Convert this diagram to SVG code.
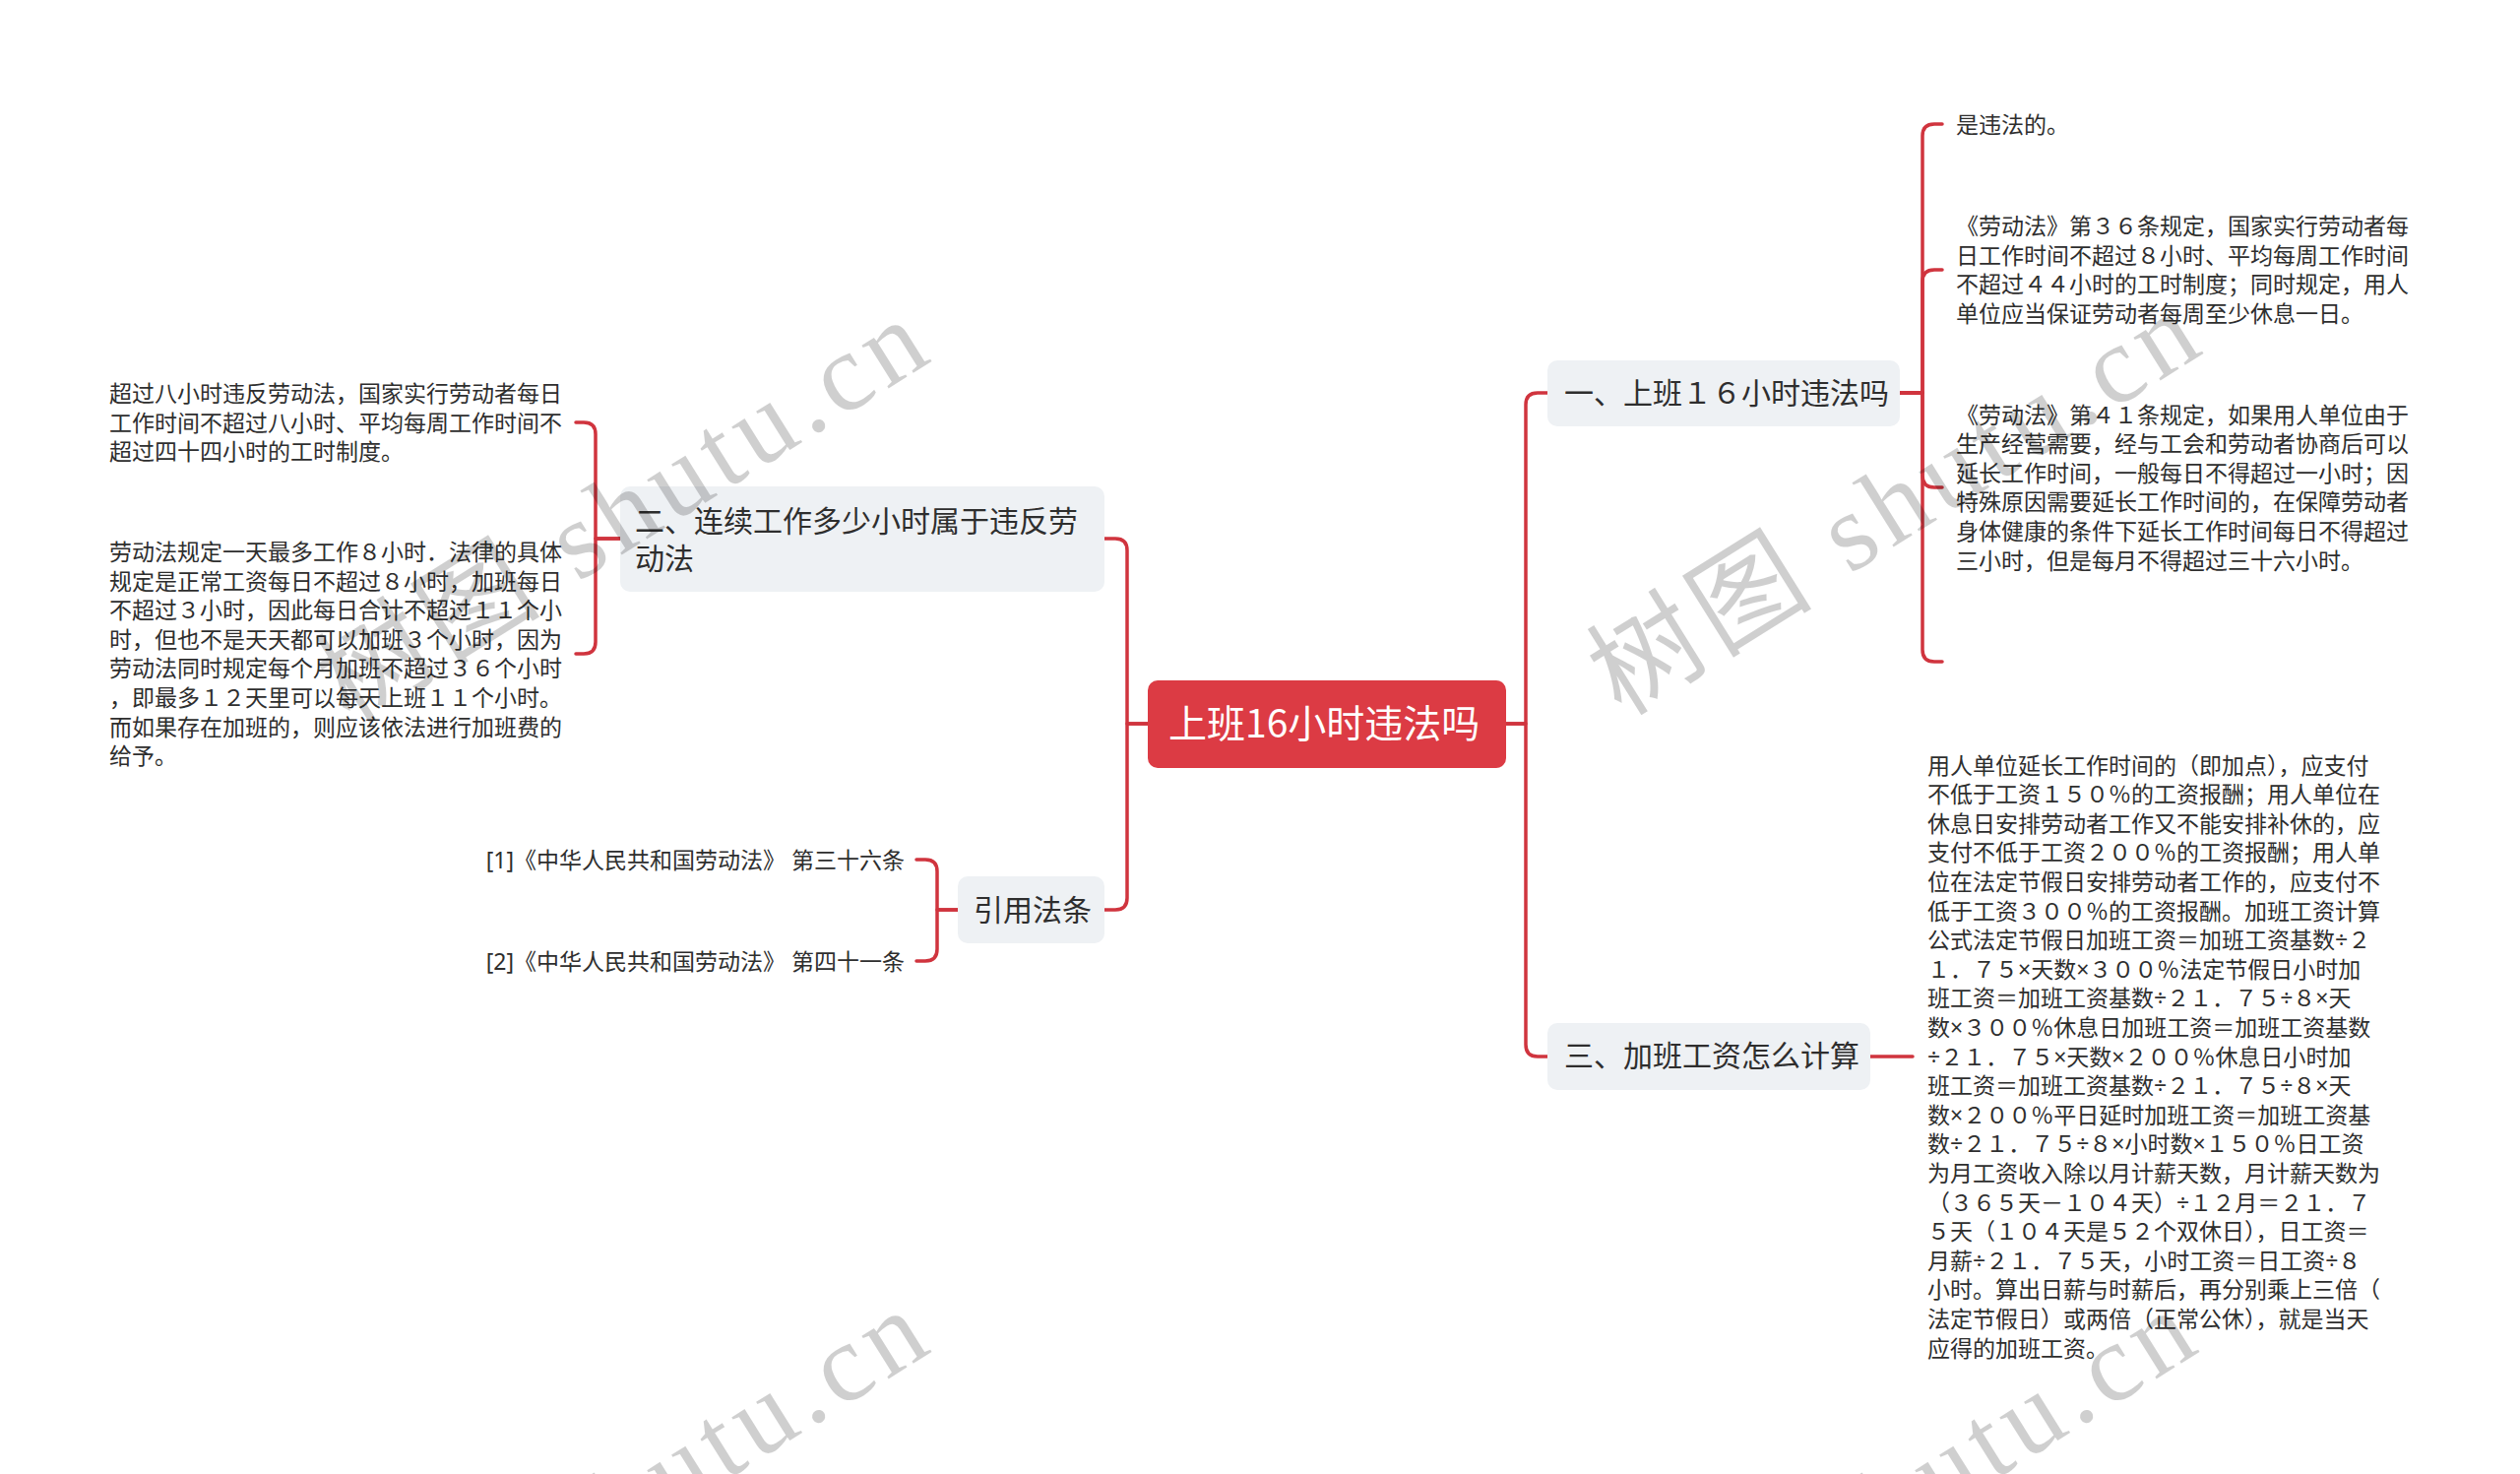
<svg xmlns="http://www.w3.org/2000/svg" width="2560" height="1497" viewBox="0 0 2560 1497">
<style>
.bg{fill:#ffffff}
.root rect{fill:#dc3b44}
.root text{fill:#ffffff;font-family:"Noto Sans CJK SC","Noto Sans",sans-serif;font-size:39px}
.topic rect{fill:#eef1f4}
.topic text{fill:#2e2e2e;font-family:"Noto Sans CJK SC","Noto Sans",sans-serif;font-size:30px}
.leaf text{fill:#2e2e2e;font-family:"Noto Sans","Noto Sans CJK SC",sans-serif;font-size:23px}
.conn path{fill:none;stroke:#d0343e;stroke-width:3.5;stroke-linecap:round;stroke-linejoin:round}
.wm text{fill:#000;fill-opacity:0.19;font-family:"Liberation Serif","Noto Sans CJK SC",serif;font-size:112px}
</style>
<rect class="bg" x="0" y="0" width="2560" height="1497"/>

<g id="connectors" class="conn">
  <path d="M1530,735 H1550 V411 Q1550,399 1562,399 H1572"/>
  <path d="M1530,735 H1550 V1061 Q1550,1073 1562,1073 H1572"/>
  <path d="M1166,735 H1145 V559 Q1145,547 1133,547 H1122"/>
  <path d="M1166,735 H1145 V912 Q1145,924 1133,924 H1122"/>
  <path d="M1930,399 H1953 V138 Q1953,126 1965,126 H1973"/>
  <path d="M1930,399 H1953 V286 Q1953,274 1965,274 H1973"/>
  <path d="M1930,399 H1953 V483 Q1953,495 1965,495 H1973"/>
  <path d="M1930,399 H1953 V660 Q1953,672 1965,672 H1973"/>
  <path d="M1900,1073 H1943"/>
  <path d="M630,547 H605 V441 Q605,429 593,429 H585"/>
  <path d="M630,547 H605 V652 Q605,664 593,664 H585"/>
  <path d="M973,924 H952 V885 Q952,873 940,873 H931"/>
  <path d="M973,924 H952 V964 Q952,976 940,976 H931"/>
</g>

<g id="root" class="root">
  <rect x="1166" y="691" width="364" height="89" rx="10"/>
  <text x="1187" y="749">上班16小时违法吗</text>
</g>

<g id="topic1" class="topic">
  <rect x="1572" y="366" width="358" height="67" rx="10"/>
  <text x="1589" y="410">一、上班１６小时违法吗</text>
</g>

<g id="topic2" class="topic">
  <rect x="630" y="494" width="492" height="107" rx="10"/>
  <text x="645" y="540">二、连续工作多少小时属于违反劳</text>
  <text x="645" y="578">动法</text>
</g>

<g id="topic3" class="topic">
  <rect x="1572" y="1039" width="328" height="68" rx="10"/>
  <text x="1589" y="1083">三、加班工资怎么计算</text>
</g>

<g id="topic4" class="topic">
  <rect x="973" y="890" width="149" height="68" rx="10"/>
  <text x="989" y="935">引用法条</text>
</g>

<g id="leaf1a" class="leaf">
  <text x="1987" y="134.5">是违法的。</text>
</g>

<g id="leaf1b" class="leaf">
  <text x="1987" y="238">《劳动法》第３６条规定，国家实行劳动者每</text>
  <text x="1987" y="267.6">日工作时间不超过８小时、平均每周工作时间</text>
  <text x="1987" y="297.2">不超过４４小时的工时制度；同时规定，用人</text>
  <text x="1987" y="326.8">单位应当保证劳动者每周至少休息一日。</text>
</g>

<g id="leaf1c" class="leaf">
  <text x="1987" y="429.5">《劳动法》第４１条规定，如果用人单位由于</text>
  <text x="1987" y="459.1">生产经营需要，经与工会和劳动者协商后可以</text>
  <text x="1987" y="488.7">延长工作时间，一般每日不得超过一小时；因</text>
  <text x="1987" y="518.3">特殊原因需要延长工作时间的，在保障劳动者</text>
  <text x="1987" y="547.9">身体健康的条件下延长工作时间每日不得超过</text>
  <text x="1987" y="577.5">三小时，但是每月不得超过三十六小时。</text>
</g>

<g id="leaf1d" class="leaf"></g>

<g id="leaf2a" class="leaf">
  <text x="111" y="408">超过八小时违反劳动法，国家实行劳动者每日</text>
  <text x="111" y="437.6">工作时间不超过八小时、平均每周工作时间不</text>
  <text x="111" y="467.2">超过四十四小时的工时制度。</text>
</g>

<g id="leaf2b" class="leaf">
  <text x="111" y="569">劳动法规定一天最多工作８小时．法律的具体</text>
  <text x="111" y="598.6">规定是正常工资每日不超过８小时，加班每日</text>
  <text x="111" y="628.2">不超过３小时，因此每日合计不超过１１个小</text>
  <text x="111" y="657.8">时，但也不是天天都可以加班３个小时，因为</text>
  <text x="111" y="687.4">劳动法同时规定每个月加班不超过３６个小时</text>
  <text x="111" y="717">，即最多１２天里可以每天上班１１个小时。</text>
  <text x="111" y="746.6">而如果存在加班的，则应该依法进行加班费的</text>
  <text x="111" y="776.2">给予。</text>
</g>

<g id="leaf3a" class="leaf">
  <text x="1958" y="785.5">用人单位延长工作时间的（即加点），应支付</text>
  <text x="1958" y="815.1">不低于工资１５０％的工资报酬；用人单位在</text>
  <text x="1958" y="844.7">休息日安排劳动者工作又不能安排补休的，应</text>
  <text x="1958" y="874.3">支付不低于工资２００％的工资报酬；用人单</text>
  <text x="1958" y="903.9">位在法定节假日安排劳动者工作的，应支付不</text>
  <text x="1958" y="933.5">低于工资３００％的工资报酬。加班工资计算</text>
  <text x="1958" y="963.1">公式法定节假日加班工资＝加班工资基数÷２</text>
  <text x="1958" y="992.7">１．７５×天数×３００％法定节假日小时加</text>
  <text x="1958" y="1022.3">班工资＝加班工资基数÷２１．７５÷８×天</text>
  <text x="1958" y="1051.9">数×３００％休息日加班工资＝加班工资基数</text>
  <text x="1958" y="1081.5">÷２１．７５×天数×２００％休息日小时加</text>
  <text x="1958" y="1111.1">班工资＝加班工资基数÷２１．７５÷８×天</text>
  <text x="1958" y="1140.7">数×２００％平日延时加班工资＝加班工资基</text>
  <text x="1958" y="1170.3">数÷２１．７５÷８×小时数×１５０％日工资</text>
  <text x="1958" y="1199.9">为月工资收入除以月计薪天数，月计薪天数为</text>
  <text x="1958" y="1229.5">（３６５天－１０４天）÷１２月＝２１．７</text>
  <text x="1958" y="1259.1">５天（１０４天是５２个双休日），日工资＝</text>
  <text x="1958" y="1288.7">月薪÷２１．７５天，小时工资＝日工资÷８</text>
  <text x="1958" y="1318.3">小时。算出日薪与时薪后，再分别乘上三倍（</text>
  <text x="1958" y="1347.9">法定节假日）或两倍（正常公休），就是当天</text>
  <text x="1958" y="1377.5">应得的加班工资。</text>
</g>

<g id="leaf4a" class="leaf">
  <text x="919" y="881.5" text-anchor="end">[1]《中华人民共和国劳动法》 第三十六条</text>
</g>
<g id="leaf4b" class="leaf">
  <text x="919" y="984.5" text-anchor="end">[2]《中华人民共和国劳动法》 第四十一条</text>
</g>

<g id="watermarks" class="wm">
  <text x="948" y="366" text-anchor="end" textLength="699" lengthAdjust="spacing" transform="rotate(-32 948 366)">树图 shutu.cn</text>
  <text x="2240" y="358" text-anchor="end" textLength="699" lengthAdjust="spacing" transform="rotate(-32 2240 358)">树图 shutu.cn</text>
  <text x="948" y="1372" text-anchor="end" textLength="699" lengthAdjust="spacing" transform="rotate(-32 948 1372)">树图 shutu.cn</text>
  <text x="2236" y="1372" text-anchor="end" textLength="699" lengthAdjust="spacing" transform="rotate(-32 2236 1372)">树图 shutu.cn</text>
</g>
</svg>
